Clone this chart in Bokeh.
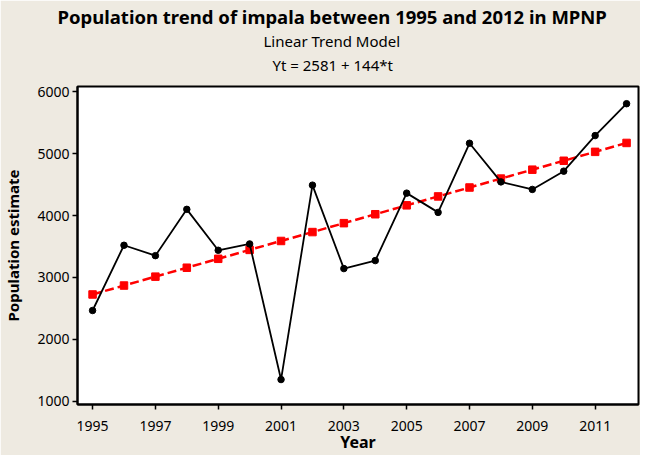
from bokeh.plotting import figure
from bokeh.models import Range1d, FixedTicker, Title
from bokeh.embed import file_html
from bokeh.resources import INLINE

years = [1995, 1996, 1997, 1998, 1999, 2000, 2001, 2002, 2003, 2004,
         2005, 2006, 2007, 2008, 2009, 2010, 2011, 2012]
population = [2466, 3520, 3352, 4100, 3439, 3541, 1350, 4491, 3143, 3272,
              4362, 4051, 5168, 4544, 4422, 4717, 5292, 5807]
trend = [2725, 2869, 3013, 3157, 3301, 3445, 3589, 3733, 3877, 4021,
         4165, 4309, 4453, 4597, 4741, 4885, 5029, 5173]
x_ticks = [1995, 1997, 1999, 2001, 2003, 2005, 2007, 2009, 2011]
y_ticks = [1000, 2000, 3000, 4000, 5000, 6000]

title_text = "Population trend of impala between 1995 and 2012 in MPNP"
sub1 = "Linear Trend Model"
sub2 = "Yt = 2581 + 144*t"

FONT = "Noto Sans"
BG = "#EEEAE1"

p = figure(width=640, height=455, output_backend="svg", toolbar_location=None,
           title=None,
           x_range=Range1d(1994.52, 2012.38), y_range=Range1d(947, 6085),
           min_border_left=69, min_border_right=2, min_border_top=86,
           min_border_bottom=50)
p.background_fill_color = "white"
p.border_fill_color = BG
p.outline_line_color = "black"
p.outline_line_width = 2
p.grid.visible = False

for ax in (p.xaxis[0], p.yaxis[0]):
    ax.axis_line_color = "black"
    ax.axis_line_width = 2
    ax.major_tick_line_color = "black"
    ax.major_tick_line_width = 1.5
    ax.major_tick_out = 5
    ax.major_tick_in = 0
    ax.minor_tick_line_color = None
    ax.major_label_text_font = FONT
    ax.major_label_text_font_size = "14px"
    ax.major_label_text_color = "black"
    ax.axis_label_text_font = FONT
    ax.axis_label_text_font_style = "bold"
    ax.axis_label_text_color = "black"

p.xaxis[0].ticker = FixedTicker(ticks=x_ticks)
p.yaxis[0].ticker = FixedTicker(ticks=y_ticks)
p.xaxis[0].axis_label = "Year"
p.yaxis[0].axis_label = "Population estimate"
p.xaxis[0].axis_label_text_font_size = "16px"
p.yaxis[0].axis_label_text_font_size = "15px"
p.xaxis[0].major_label_standoff = 11
p.yaxis[0].major_label_standoff = 3
p.xaxis[0].axis_label_standoff = -3
p.yaxis[0].axis_label_standoff = 11

# trend line
p.line(years, trend, line_color="#FF0000", line_width=2.5, line_dash="9 4")
p.scatter(years, trend, marker="square", size=7.5, fill_color="#FF0000",
          line_color="#FF0000")
# data
p.line(years, population, line_color="black", line_width=1.8)
p.scatter(years, population, marker="circle", size=6.5, fill_color="black",
          line_color="black")

# spacer between the frame and the titles
p.add_layout(Title(text=" ", text_font=FONT, text_font_size="7px", standoff=0), "above")
p.add_layout(Title(text=sub2, align="left", offset=195, text_font=FONT,
                   text_font_size="15px", text_font_style="normal",
                   text_color="black", standoff=2), "above")
p.add_layout(Title(text=sub1, align="left", offset=186, text_font=FONT,
                   text_font_size="15px", text_font_style="normal",
                   text_color="black", standoff=1), "above")
p.add_layout(Title(text=title_text, align="left", offset=-20, text_font=FONT,
                   text_font_size="18.5px", text_font_style="bold",
                   text_color="black", standoff=0), "above")

open("out.html", "w").write(file_html(p, INLINE))
